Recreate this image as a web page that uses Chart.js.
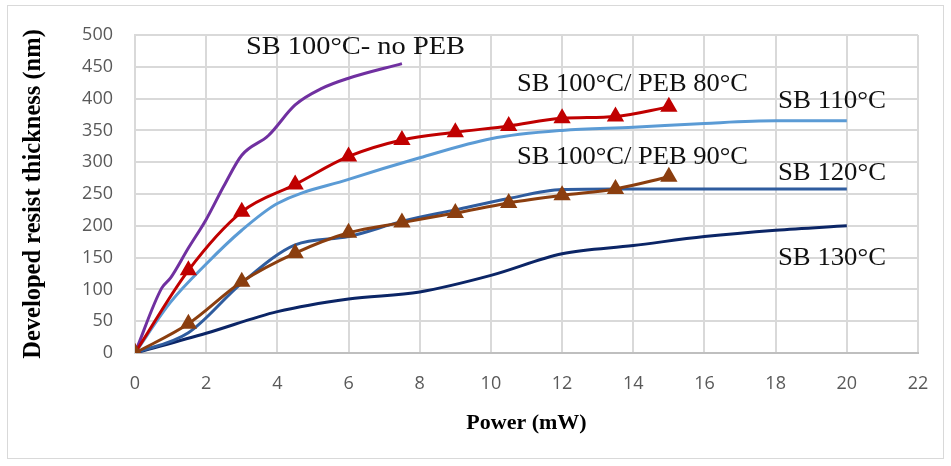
<!DOCTYPE html>
<html>
<head>
<meta charset="utf-8">
<script src="https://cdn.jsdelivr.net/npm/chart.js@4.4.1/dist/chart.umd.min.js"></script>
<style>
  html, body { margin: 0; padding: 0; background: #fff; }
</style>
</head>
<body>
<canvas id="c" width="951" height="466"></canvas>
<script>
// values
const xTriangle = [0, 1.5, 3, 4.5, 6, 7.5, 9, 10.5, 12, 13.5, 15];
const peb90 = [0, 46, 112, 157, 189, 205, 220, 236, 248, 258, 277];
const peb80 = [0, 130, 222, 265, 309, 335, 347, 357, 369, 372, 387];

const xNoPeb = [0, 0.75, 1, 1.5, 2, 2.5, 3, 3.75, 4.5, 5.25, 6, 7.5];
const noPeb = [0, 102, 118, 165, 210, 263, 311, 342, 390, 416, 432, 455];

const xSb110 = [0, 1, 2, 3, 4, 6, 8, 10, 12, 14, 16, 18, 20];
const sb110 = [0, 80, 140, 193, 235, 273, 307, 337, 350, 355, 361, 365, 365];

const xSb120 = [0, 1.5, 3, 4.5, 6, 7.5, 9, 10.5, 12, 13.5, 20];
const sb120 = [0, 32, 110, 170, 183, 207, 225, 243, 257, 258, 258];

const xSb130 = [0, 2, 4, 6, 8, 10, 12, 14, 16, 18, 20];
const sb130 = [0, 31, 65, 85, 96, 122, 156, 169, 183, 193, 200];

const curveLabels = ['SB 100°C- no PEB', 'SB 100°C/ PEB 80°C', 'SB 110°C',
                     'SB 100°C/ PEB 90°C', 'SB 120°C', 'SB 130°C'];

const xTitle = 'Power (mW)';
const yTitle = 'Developed resist thickness (nm)';

const pts = (xs, ys) => xs.map((x, i) => ({ x: x, y: ys[i] }));

function lineSet(data, color, withMarks) {
  return {
    data: data,
    borderColor: color,
    backgroundColor: color,
    borderWidth: 3,
    cubicInterpolationMode: 'monotone',
    pointStyle: 'triangle',
    pointRadius: withMarks ? 7 : 0,
    pointHoverRadius: withMarks ? 7 : 0,
    fill: false
  };
}

// text labels next to the curves + outer frame
const labelPlugin = {
  id: 'curveText',
  afterDraw(chart) {
    const ctx = chart.ctx;
    const spots = [[246, 47, 219], [517, 84, 231], [778, 101, 108],
                   [517, 157, 231], [778, 173, 108], [778, 258, 108]];
    ctx.save();
    ctx.strokeStyle = '#d9d9d9';
    ctx.lineWidth = 1;
    ctx.strokeRect(7.5, 5.5, 936, 453);
    ctx.fillStyle = '#111';
    ctx.font = '26px "Liberation Serif"';
    ctx.textBaseline = 'middle';
    curveLabels.forEach((t, i) => {
      const s = spots[i];
      const w = ctx.measureText(t).width;
      ctx.save();
      ctx.translate(s[0], s[1]);
      ctx.scale(s[2] / w, 1);
      ctx.fillText(t, 0, 0);
      ctx.restore();
    });
    ctx.restore();
  }
};

new Chart(document.getElementById('c'), {
  type: 'line',
  data: {
    datasets: [
      lineSet(pts(xTriangle, peb90), '#8B3E0F', true),
      lineSet(pts(xTriangle, peb80), '#C00000', true),
      lineSet(pts(xNoPeb, noPeb), '#7030A0', false),
      lineSet(pts(xSb110, sb110), '#5B9BD5', false),
      lineSet(pts(xSb120, sb120), '#2F5C9E', false),
      lineSet(pts(xSb130, sb130), '#0B2566', false)
    ]
  },
  options: {
    responsive: false,
    animation: false,
    layout: { padding: { top: 35, right: 33, left: 0, bottom: 0 } },
    plugins: { legend: { display: false }, tooltip: { enabled: false } },
    scales: {
      x: {
        type: 'linear',
        min: 0,
        max: 22,
        afterFit(scale) { scale.height = 113; },
        ticks: {
          stepSize: 2,
          padding: 20,
          color: '#595959',
          font: { family: 'Open Sans', size: 18 }
        },
        grid: { color: '#d9d9d9', lineWidth: 2, drawTicks: false },
        border: { color: '#bfbfbf', width: 2 },
        title: {
          display: true,
          text: xTitle,
          color: '#000',
          padding: { top: 0, bottom: 29 },
          font: { family: 'Liberation Serif', size: 22, weight: 'bold' }
        }
      },
      y: {
        min: 0,
        max: 500,
        afterFit(scale) { scale.width = 135; },
        ticks: {
          stepSize: 50,
          padding: 22,
          color: '#595959',
          font: { family: 'Open Sans', size: 18 }
        },
        grid: { color: '#d9d9d9', lineWidth: 2, drawTicks: false },
        border: { color: '#d9d9d9', width: 2 },
        title: {
          display: true,
          text: yTitle,
          color: '#000',
          padding: { top: 19, bottom: 0 },
          font: { family: 'Liberation Serif', size: 24.5, weight: 'bold' }
        }
      }
    }
  },
  plugins: [labelPlugin]
});
</script>
</body>
</html>
